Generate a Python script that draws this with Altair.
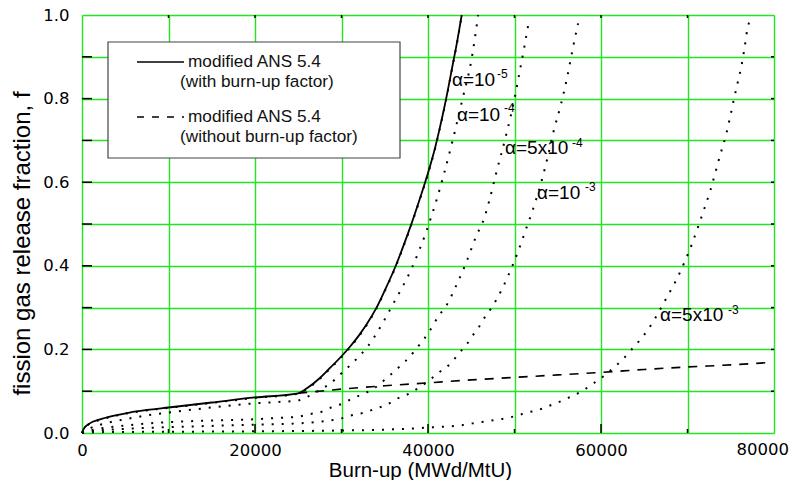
import altair as alt
import pandas as pd

# ---------------- data ----------------
bu_solid = [0, 200, 900, 2000, 3600, 5500, 7500, 10000, 15000, 20000, 25000,
            26000, 27470, 28500, 29970, 31000, 32000, 33000, 34000, 35000, 36310,
            37200, 38040, 39000, 40000, 40850, 41300, 42000, 42800, 43400, 43900]
f_solid = [0, 0.010, 0.023, 0.032, 0.041, 0.049, 0.055, 0.061, 0.073, 0.085, 0.095,
           0.107, 0.131, 0.152, 0.183, 0.207, 0.233, 0.263, 0.298, 0.341, 0.402,
           0.450, 0.498, 0.557, 0.622, 0.685, 0.724, 0.790, 0.875, 0.940, 1.0]

bu_dash = [25000, 30000, 35000, 40000, 45000, 50000, 55000, 60000, 65000, 70000, 75000, 79000]
f_dash = [0.095, 0.105, 0.113, 0.120, 0.127, 0.133, 0.139, 0.145, 0.152, 0.158, 0.163, 0.168]

bu_a1e5 = [0, 200, 900, 2000, 3600, 5500, 7500, 10000, 15000, 20000, 25000,
           26000, 27470, 28500, 29970, 31000, 32000, 33000, 34000, 35000, 36310,
           37200, 38040, 39000, 40000, 40850, 41300, 42000, 42800, 43400, 43900]
f_a1e5 = [0, 0.009, 0.022, 0.031, 0.040, 0.048, 0.054, 0.060, 0.072, 0.084, 0.094,
          0.105, 0.129, 0.150, 0.181, 0.205, 0.231, 0.261, 0.296, 0.339, 0.400,
          0.448, 0.496, 0.555, 0.620, 0.683, 0.722, 0.788, 0.873, 0.938, 1.0]

bu_a1e4 = [0, 1000, 2500, 5000, 7500, 10000, 15000, 20000, 22500, 25000, 26300, 27500,
           28800, 30000, 31100, 32100, 33000, 33800, 36000, 38200, 39800, 40850,
           42850, 44000, 45000, 45800]
f_a1e4 = [0, 0.012, 0.022, 0.033, 0.042, 0.049, 0.061, 0.071, 0.074, 0.078, 0.089, 0.103,
          0.120, 0.143, 0.164, 0.185, 0.206, 0.230, 0.310, 0.398, 0.482, 0.548,
          0.70, 0.80, 0.89, 1.0]

bu_a5e4 = [0, 1000, 2500, 5000, 10000, 15000, 20000, 22500, 25000, 26300, 27700, 28800,
           30200, 31300, 32700, 34000, 35200, 36300, 37400, 38400, 39200, 40000, 41300,
           42000, 43550, 44400, 45550, 46500, 47100, 47860, 49000, 50000, 50600, 51150, 51700]
f_a5e4 = [0, 0.006, 0.012, 0.018, 0.026, 0.030, 0.033, 0.036, 0.039, 0.045, 0.051, 0.061,
          0.071, 0.083, 0.095, 0.110, 0.131, 0.151, 0.172, 0.195, 0.216, 0.238, 0.282,
          0.301, 0.366, 0.407, 0.470, 0.514, 0.557, 0.620, 0.710, 0.800, 0.865, 0.925, 0.99]

bu_a1e3 = [0, 1000, 2500, 5000, 10000, 15000, 20000, 25000, 27500, 30000, 31300, 32700,
           34000, 35200, 36300, 37700, 40200, 41400, 42700, 43550, 44400, 45200, 45900,
           46600, 47300, 49800, 50550, 51300, 52100, 53050, 53800, 54500, 55400, 56100,
           56700, 57350]
f_a1e3 = [0, 0.004, 0.007, 0.010, 0.014, 0.017, 0.020, 0.023, 0.027, 0.035, 0.043, 0.049,
          0.059, 0.067, 0.081, 0.093, 0.127, 0.147, 0.168, 0.190, 0.210, 0.234, 0.254,
          0.278, 0.298, 0.402, 0.442, 0.486, 0.533, 0.597, 0.657, 0.720, 0.789, 0.852,
          0.916, 0.98]

bu_a5e3 = [0, 2000, 10000, 20000, 30000, 35000, 40000, 44000, 45160, 46500, 47660, 49000,
           50170, 51500, 52750, 54000, 55250, 56500, 57800, 59000, 60250, 61450, 62550,
           63500, 64400, 65250, 67650, 68800, 69700, 70550, 71300, 72000, 72650, 73250,
           73800, 74400, 74900, 75350, 75800, 76250, 76600, 76900, 77200, 77350]
f_a5e3 = [0, 0.002, 0.003, 0.004, 0.006, 0.008, 0.013, 0.019, 0.023, 0.027, 0.031, 0.035,
          0.041, 0.049, 0.055, 0.065, 0.075, 0.087, 0.100, 0.117, 0.135, 0.156, 0.177,
          0.199, 0.220, 0.242, 0.326, 0.370, 0.411, 0.454, 0.498, 0.540, 0.581, 0.625,
          0.667, 0.709, 0.753, 0.797, 0.838, 0.880, 0.922, 0.964, 0.988, 1.0]

label_main = ["α=10", "α=10", "α=5x10", "α=10", "α=5x10"]
label_x = [42770, 43350, 48900, 52600, 66820]
label_y = [0.845, 0.761, 0.682, 0.574, 0.282]
label_sup = ["-5", "-4", "-4", "-3", "-3"]
sup_x = [47970, 48780, 56640, 58150, 74680]
sup_y = [0.859, 0.778, 0.694, 0.589, 0.294]

x_ticks = [0, 10000, 20000, 30000, 40000, 50000, 60000, 70000, 80000]
y_ticks = [0, 0.1, 0.2, 0.3, 0.4, 0.5, 0.6, 0.7, 0.8, 0.9, 1.0]
x_major = [20000, 40000, 60000]
x_minor = [10000, 30000, 50000, 70000]
x_last_label = [80000]

# ---------------- build tables ----------------
def table(bu, f, name):
    return pd.DataFrame({"bu": bu, "f": f, "series": name})

solid_df = table(bu_solid, f_solid, "with")
dash_df = table(bu_dash, f_dash, "without")
dotted_df = pd.concat([
    table(bu_a1e5, f_a1e5, "1e-5"),
    table(bu_a1e4, f_a1e4, "1e-4"),
    table(bu_a5e4, f_a5e4, "5e-4"),
    table(bu_a1e3, f_a1e3, "1e-3"),
    table(bu_a5e3, f_a5e3, "5e-3"),
])
lab_df = pd.DataFrame({"bu": label_x, "f": label_y, "t": label_main})
sup_df = pd.DataFrame({"bu": sup_x, "f": sup_y, "t": label_sup})
last_df = pd.DataFrame({"bu": x_last_label, "t": [str(v) for v in x_last_label]})

FONT = "Liberation Sans, Arial, sans-serif"
TICKFONT = "DejaVu Sans, sans-serif"
W, H = 692, 418
GRID = "#22e622"
TICK_FS = 16.5

x_scale = alt.Scale(domain=[0, 80000], nice=False, zero=False)
y_scale = alt.Scale(domain=[0, 1], nice=False)

x_axis = alt.Axis(
    values=x_ticks, grid=True, gridColor=GRID, gridWidth=1.4, ticks=False, tickSize=0,
    domain=False, labelFont=TICKFONT, labelFontSize=TICK_FS, labelColor="black", labelPadding=9,
    labelFlush=False, labelOverlap=False, labelBound=False,
    labelExpr="round(datum.value/10000) % 2 == 0 && datum.value < 80000 ? format(datum.value, 'd') : ''",
    title="Burn-up (MWd/MtU)", titleFont=FONT, titleFontSize=20.5, titleFontWeight="normal",
    titleColor="black", titleX=338, titleY=43, titleBaseline="alphabetic", titleAlign="center",
)
y_axis = alt.Axis(
    values=y_ticks, grid=True, gridColor=GRID, gridWidth=1.4, ticks=False, tickSize=0,
    domain=False, labelFont=TICKFONT, labelFontSize=TICK_FS, labelColor="black", labelPadding=13,
    labelFlush=False, labelOverlap=False, labelBound=False,
    labelExpr="round(datum.value*10) % 2 == 0 ? format(datum.value, '.1f') : ''",
    title="fission gas release fraction, f", titleFont=FONT, titleFontSize=24,
    titleFontWeight="normal", titleColor="black", titleAngle=-90, titleX=-60, titleY=228,
    titleBaseline="middle", titleAlign="center",
)

X = lambda f="bu": alt.X(f"{f}:Q", scale=x_scale, axis=x_axis)
Y = lambda f="f": alt.Y(f"{f}:Q", scale=y_scale, axis=y_axis)

solid = alt.Chart(solid_df).mark_line(color="black", strokeWidth=1.8, interpolate="monotone").encode(
    x=X(), y=Y())
dashed = alt.Chart(dash_df).mark_line(color="black", strokeWidth=1.6, strokeDash=[9, 8],
                                       interpolate="monotone").encode(x=X(), y=Y())
dotted = alt.Chart(dotted_df).mark_line(color="black", strokeWidth=2, strokeDash=[2, 8],
                                         interpolate="monotone").encode(
    x=X(), y=Y(), detail="series:N")

labels = alt.Chart(lab_df).mark_text(font=FONT, fontSize=19, align="left", baseline="middle",
                                     color="black").encode(x=X(), y=Y(), text="t:N")
sups = alt.Chart(sup_df).mark_text(font=FONT, fontSize=12, align="left", baseline="middle",
                                   color="black").encode(x=X(), y=Y(), text="t:N")
# last x tick label, kept inside the page's right edge
last_lab = alt.Chart(last_df).mark_text(font=TICKFONT, fontSize=TICK_FS, align="right",
                                        baseline="top", dx=15, color="black").encode(
    x=X(), y=alt.value(H + 9), text="t:N")

# inward ticks
ytk = pd.DataFrame({"v": y_ticks[1:-1]})
xtk = pd.DataFrame({"v": x_ticks[1:-1]})
xmaj = pd.DataFrame({"v": x_major})
xmin = pd.DataFrame({"v": x_minor})
left_t = alt.Chart(ytk).mark_rule(color="black", strokeWidth=1.5).encode(
    y=Y("v"), x=alt.value(0), x2=alt.value(10))
right_t = alt.Chart(ytk).mark_rule(color="black", strokeWidth=1.5).encode(
    y=Y("v"), x=alt.value(W - 3), x2=alt.value(W))
bot_major = alt.Chart(xmaj).mark_rule(color="black", strokeWidth=1.5).encode(
    x=X("v"), y=alt.value(H), y2=alt.value(H - 9))
bot_minor = alt.Chart(xmin).mark_rule(color="black", strokeWidth=1.5).encode(
    x=X("v"), y=alt.value(H), y2=alt.value(H - 4))
top_t = alt.Chart(xtk).mark_rule(color="black", strokeWidth=1.5).encode(
    x=X("v"), y=alt.value(0), y2=alt.value(3))

# legend box
one = pd.DataFrame({"a": [0]})
box = alt.Chart(one).mark_rect(fill="white", stroke="#444444", strokeWidth=1.2).encode(
    x=alt.value(26), x2=alt.value(318), y=alt.value(27), y2=alt.value(143))
leg_solid = alt.Chart(one).mark_rule(color="black", strokeWidth=1.6).encode(
    x=alt.value(55), x2=alt.value(102), y=alt.value(47))
leg_dash = alt.Chart(one).mark_rule(color="black", strokeWidth=1.6, strokeDash=[7, 8]).encode(
    x=alt.value(55), x2=alt.value(102), y=alt.value(102))

def leg_text(txt, x, y):
    return alt.Chart(one).mark_text(font=FONT, fontSize=17.2, align="left", baseline="middle",
                                    color="#111111").encode(
        x=alt.value(x), y=alt.value(y), text=alt.value(txt))

legend = [box, leg_solid, leg_dash,
          leg_text("modified ANS 5.4", 106, 47),
          leg_text("(with burn-up factor)", 98, 67),
          leg_text("modified ANS 5.4", 106, 102),
          leg_text("(without burn-up factor)", 98, 122)]

chart = alt.layer(dotted, solid, dashed, labels, sups, last_lab, left_t, right_t, bot_major,
                  bot_minor, top_t, *legend).properties(
    width=W, height=H,
    autosize=alt.AutoSizeParams(type="none"),
    padding={"left": 74, "top": 7, "right": 16, "bottom": 47},
).configure_view(stroke="black", strokeWidth=2).configure(background="white")

chart.save("out.html", embed_options={"renderer": "svg", "actions": False})
